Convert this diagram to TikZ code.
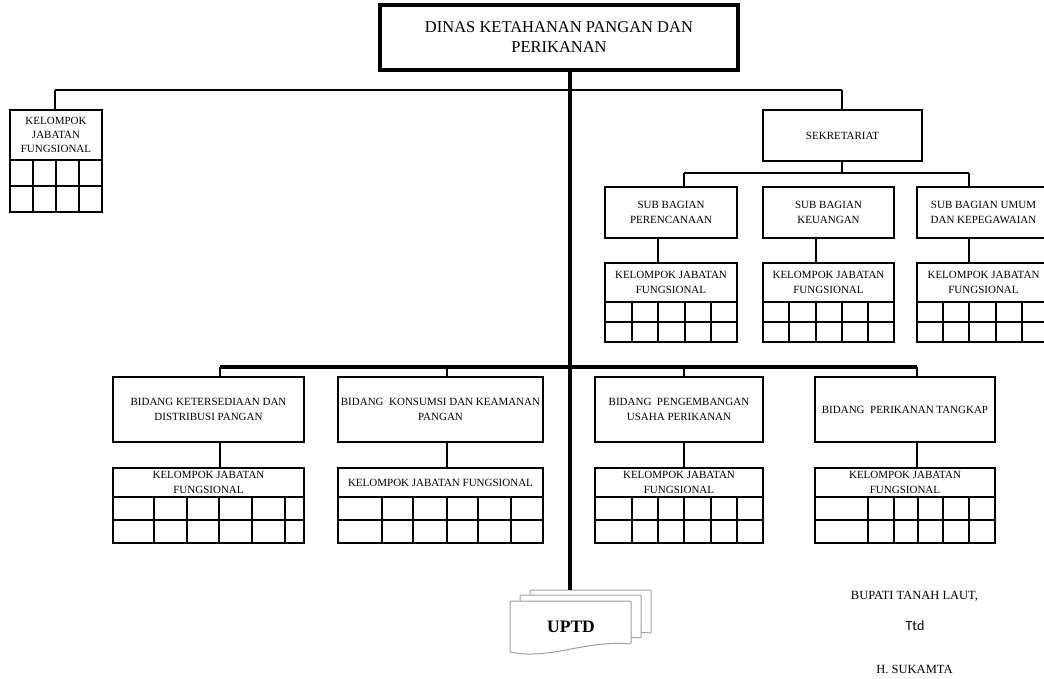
\documentclass[tikz,border=0pt]{standalone}
\usepackage{fontspec}
\setmainfont{Liberation Serif}
\newfontfamily\ttdfont{Carlito}
\newcommand{\smallfont}{\fontsize{11}{14.2}\selectfont}

\tikzset{every picture/.style={line width=0.75pt}}
\tikzset{
  orgbox/.style={draw, line width=2.7pt, inner sep=0pt, outer sep=0pt, align=center, font=\smallfont, anchor=north west},
  conn/.style={line width=2.2pt},
  trunk/.style={line width=3.2pt},
  gridline/.style={line width=2.7pt},
  docpage/.style={draw=gray!75, fill=white, line width=1pt, rounded corners=1pt},
  signtext/.style={font=\fontsize{12.5}{15}\selectfont}
}

% box from (x1,y1) to (x2,y2)
\newcommand{\orgunit}[6]{%
  \node[orgbox, minimum width={#4-#2}, minimum height={#5-#3}] (#1) at (#2,#3) {#6};}
% kelompok jabatan fungsional: header and two rows of cells
\newcommand{\kjf}[8]{%
  \node[orgbox, minimum width={#3-#2}, minimum height={#5-#4}] (#1) at (#2,#4) {#8};
  \draw[gridline] (#2,#5) rectangle (#3,#6);
  \draw[gridline] (#2,{(#5+#6)/2}) -- (#3,{(#5+#6)/2});
  \foreach \cx in {#7} {\draw[gridline] (\cx,#5) -- (\cx,#6);}
}

\begin{document}
\begin{tikzpicture}[x=1pt,y=1pt,yscale=-1]
\useasboundingbox (0,0) rectangle (1044,679);
\clip (0,0) rectangle (1044,679);

% Top unit
\node[orgbox, line width=3.2pt, minimum width=358, minimum height=65, font=\fontsize{16.5}{20}\selectfont] (dinas) at (380,5) {DINAS KETAHANAN PANGAN DAN\\PERIKANAN};

% Left group
\kjf{kjf0}{10}{102}{110}{160}{212}{33,56,79}{KELOMPOK\\JABATAN\\FUNGSIONAL}

% Sekretariat
\orgunit{sek}{763}{110}{922}{161}{SEKRETARIAT}
\orgunit{sb1}{605}{187}{737}{238}{SUB BAGIAN\\PERENCANAAN}
\orgunit{sb2}{763}{187}{894}{238}{SUB BAGIAN\\KEUANGAN}
\orgunit{sb3}{917}{187}{1050}{238}{SUB BAGIAN UMUM\\DAN KEPEGAWAIAN}
\kjf{k1}{605}{737}{263}{302}{342}{632,658,685,711}{KELOMPOK JABATAN\\FUNGSIONAL}
\kjf{k2}{763}{894}{263}{302}{342}{789,816,842,868}{KELOMPOK JABATAN\\FUNGSIONAL}
\kjf{k3}{917}{1050}{263}{302}{342}{943,969,996,1022}{KELOMPOK JABATAN\\FUNGSIONAL}

% Bidang
\orgunit{b1}{113}{377}{304}{442}{BIDANG KETERSEDIAAN DAN\\DISTRIBUSI PANGAN}
\orgunit{b2}{338}{377}{543}{442}{BIDANG\ \ KONSUMSI DAN KEAMANAN\\PANGAN}
\orgunit{b3}{595}{377}{763}{442}{BIDANG\ \ PENGEMBANGAN\\USAHA PERIKANAN}
\orgunit{b4}{815}{377}{995}{442}{BIDANG\ \ PERIKANAN TANGKAP}
\kjf{k4}{113}{304}{468}{497}{543}{154,187,219,252,285}{KELOMPOK JABATAN\\FUNGSIONAL}
\kjf{k5}{338}{543}{468}{497}{543}{382,413,447,478,511}{KELOMPOK JABATAN FUNGSIONAL}
\kjf{k6}{595}{763}{468}{497}{543}{632,658,684,711,737}{KELOMPOK JABATAN\\FUNGSIONAL}
\kjf{k7}{815}{995}{468}{497}{543}{868,894,918,943,969}{KELOMPOK JABATAN\\FUNGSIONAL}

% UPTD pages
\foreach \dx/\dy in {20/-11,10/-6,0/0} {
  \draw[docpage, shift={(\dx,\dy)}] (510,601) -- (631,601) -- (631,644) .. controls (585,640) and (550,660) .. (510,652) -- cycle;
}
\node[font=\bfseries\fontsize{17.5}{20}\selectfont] (uptd) at (571,627) {UPTD};

% Straight Lines
\coordinate (trk) at (570,590);
\coordinate (busL) at (55,90);
\coordinate (busR) at (842,90);
\coordinate (sbL) at (684,173);
\coordinate (sbR) at (969,173);
\coordinate (d1) at (220,367);
\coordinate (d2) at (447,367);
\coordinate (d3) at (684,367);
\coordinate (d4) at (917,367);

\draw[trunk] (dinas.south -| trk) -- (trk);
\draw[conn] (busL) -- (busR);
\draw[conn] (busL) -- (kjf0.north -| busL);
\draw[conn] (busR) -- (sek.north -| busR);

\draw[conn] (sek.south -| busR) -- (sbL -| busR);
\draw[conn] (sbL) -- (sbR);
\draw[conn] (sbL) -- (sb1.north -| sbL);
\draw[conn] (sbR) -- (sb3.north -| sbR);
\draw[conn] ([xshift=-13]sb1.south) -- ([xshift=-13]k1.north);
\draw[conn] ([xshift=-12.5]sb2.south) -- ([xshift=-12.5]k2.north);
\draw[conn] (sb3.south -| sbR) -- (k3.north -| sbR);

\draw[trunk] (d1) -- (d4);
\foreach \d/\b/\k in {d1/b1/k4, d2/b2/k5, d3/b3/k6, d4/b4/k7} {
  \draw[conn] (\d) -- (\b.north -| \d);
  \draw[conn] (\b.south -| \d) -- (\k.north -| \d);
}

% Text Node
\node[signtext] (bupati) at (914.5,596) {BUPATI TANAH LAUT,};
\node[font=\ttdfont\fontsize{14}{16}\selectfont] (ttd) at (915,626) {Ttd};
\node[signtext] (nama) at (914.5,669) {H. SUKAMTA};

\end{tikzpicture}
\end{document}
